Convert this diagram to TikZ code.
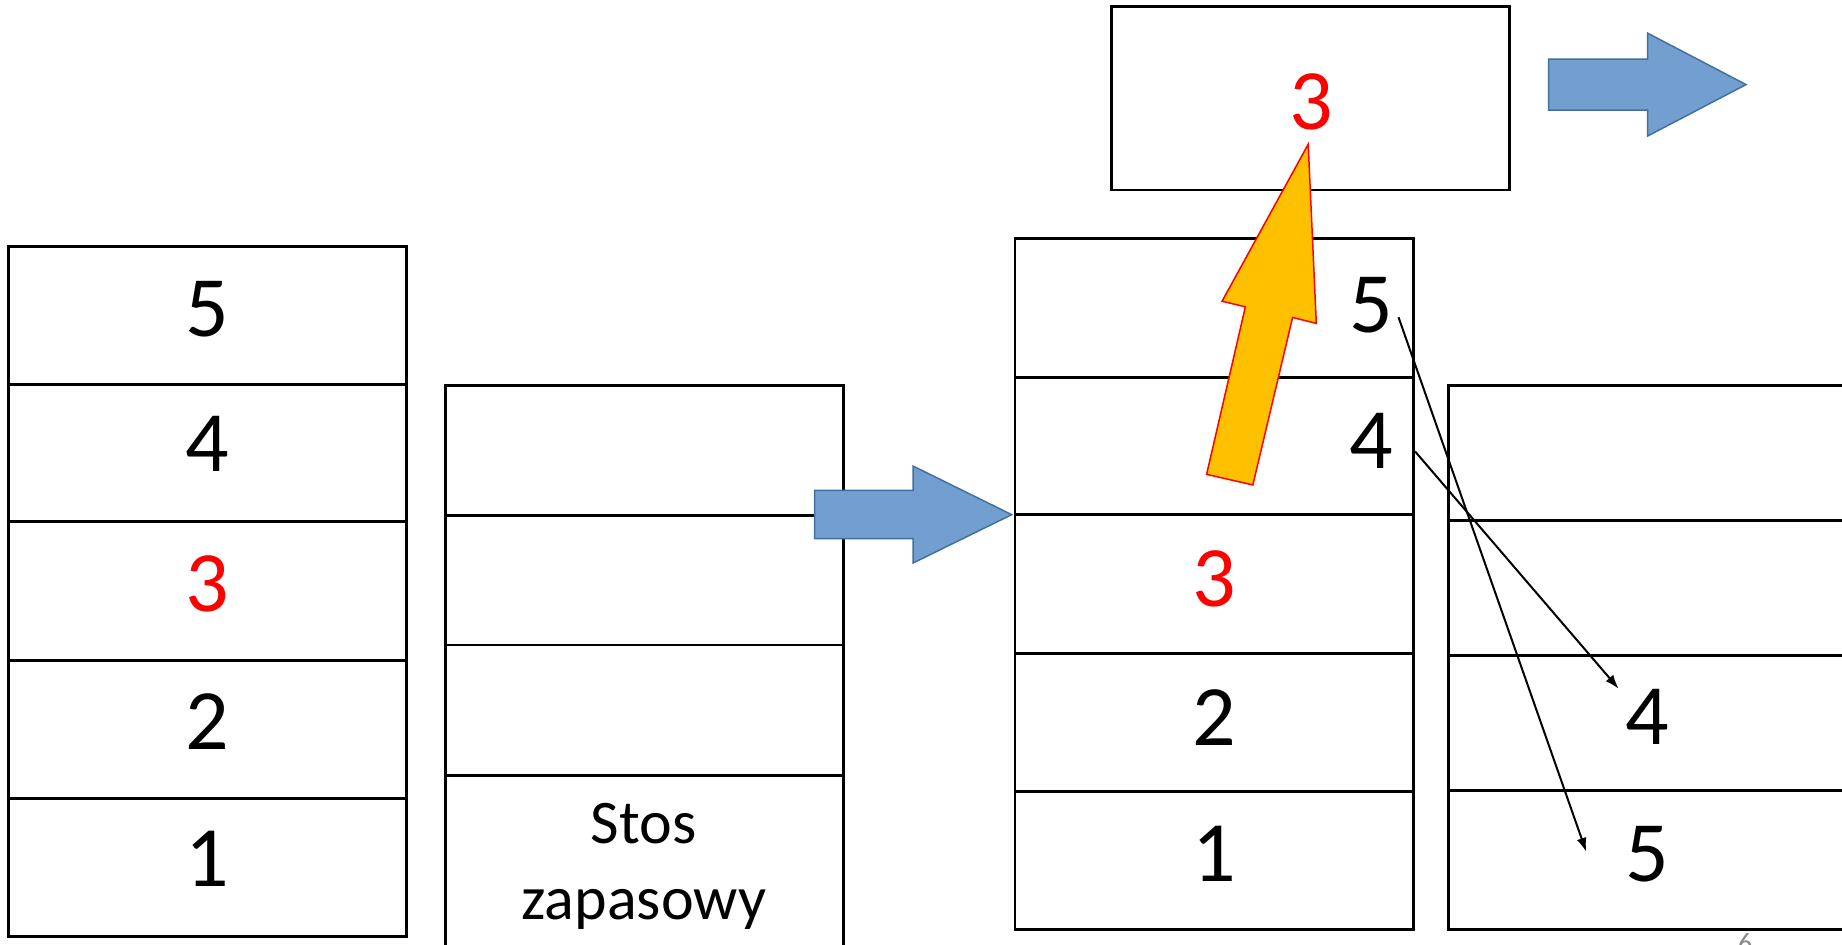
\documentclass[tikz,border=0pt]{standalone}
\usepackage{fontspec}
\setmainfont{Carlito}
\usetikzlibrary{arrows.meta}
\definecolor{arrowblue}{RGB}{114,159,207}
\definecolor{arrowblueedge}{RGB}{65,113,156}
\definecolor{ppyellow}{RGB}{255,192,0}
\definecolor{pagegray}{RGB}{137,137,137}
\begin{document}
\begin{tikzpicture}[x=1.17474pt,y=-1.17474pt,
  cellline/.style={line width=2.8pt, draw=black},
  digit/.style={font=\fontsize{86}{100}\selectfont, inner sep=0pt},
  reddigit/.style={digit, text=red},
  stacklabel/.style={font=\fontsize{62}{76}\selectfont, inner sep=0pt, anchor=base},
  bluearrow/.style={fill=arrowblue, draw=arrowblueedge, line width=1.5pt, line join=miter},
  yellowarrow/.style={fill=ppyellow, draw=red, line width=1.5pt, line join=miter},
  thinarrow/.style={line width=2pt, -{Latex[length=14pt,width=10pt]}},
]
\useasboundingbox (0,0) rectangle (1568,804);
\fill[white] (0,0) rectangle (1568,804);
\begin{scope}
\clip (0,0) rectangle (1568,804);
% left stack
\draw[cellline] (7,210) rectangle (346,797);
\foreach \yy in {327,444,562,680} \draw[cellline] (7,\yy) -- (346,\yy);
\node[digit] (l5) at (176.5,263) {5};
\node[digit] (l4) at (176.5,378) {4};
\node[reddigit] (l3) at (176.5,497) {3};
\node[digit] (l2) at (176.5,614) {2};
\node[digit] (l1) at (176.5,731) {1};
% spare stack
\draw[cellline] (379,815) -- (379,328) -- (718,328) -- (718,815);
\foreach \yy in {439,549,660} \draw[cellline] (379,\yy) -- (718,\yy);
\node[stacklabel] (stos) at (548,718) {Stos};
\node[stacklabel] (zap) at (548,783) {zapasowy};
% third stack
\draw[cellline] (864,203) rectangle (1203,791);
\foreach \yy in {321,438,556,674} \draw[cellline] (864,\yy) -- (1203,\yy);
\node[digit] (m5) at (1167,260) {5};
\node[digit] (m4) at (1167,375) {4};
\node[reddigit] (m3) at (1034,493) {3};
\node[digit] (m2) at (1034,611) {2};
\node[digit] (m1) at (1034,727) {1};
% fourth stack
\draw[cellline] (1580,328) -- (1233,328) -- (1233,791) -- (1580,791);
\foreach \yy in {443,558,673} \draw[cellline] (1233,\yy) -- (1580,\yy);
\node[digit] (r4) at (1402,610) {4};
\node[digit] (r5) at (1402,727) {5};
% top box
\draw[cellline] (946,5.5) rectangle (1285,161.8);
\node[reddigit] (t3) at (1116,86.5) {3};
% blue arrows
\draw[bluearrow] (693.5,417.4) -- (777.2,417.4) -- (777.2,396.7) -- (861.2,438.1) -- (777.2,479.3) -- (777.2,458.5) -- (693.5,458.5) -- cycle;
\draw[bluearrow] (1318.3,50.3) -- (1402.5,50.3) -- (1402.5,28.2) -- (1486.3,72) -- (1402.5,115.8) -- (1402.5,93.7) -- (1318.3,93.7) -- cycle;
% yellow arrow
\draw[yellowarrow] (1113.6,122.8) -- (1120.5,275.3) -- (1100.3,270.2) -- (1066.5,412.8) -- (1027.1,403.8) -- (1060.1,261.2) -- (1040.3,256.4) -- cycle;
% thin arrows
\coordinate (s5) at (1190.5,270.1);
\coordinate (e5) at (1350.3,725.1);
\coordinate (s4) at (1204.6,384.3);
\coordinate (e4) at (1377.9,586.3);
\draw[thinarrow] (s5) -- (e5);
\draw[thinarrow] (s4) -- (e4);
% page number
\node[font=\fontsize{28}{32}\selectfont, text=pagegray, inner sep=0pt] (pg) at (1485.5,803) {6};
\end{scope}
\end{tikzpicture}
\end{document}
